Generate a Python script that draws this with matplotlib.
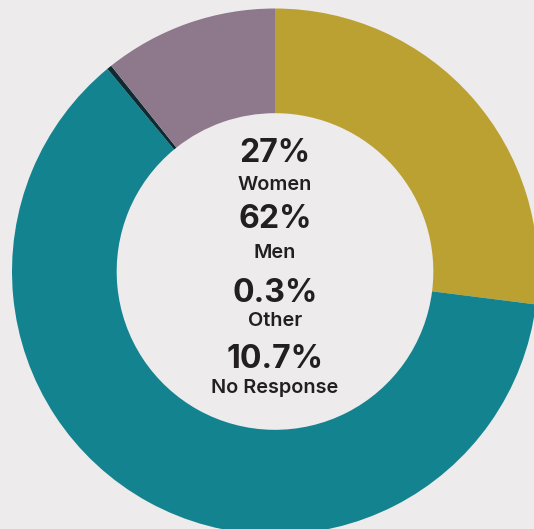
import matplotlib.pyplot as plt

categorias = ["Women", "Men", "Other", "No Response"]
valores = [27, 62, 0.3, 10.7]
etiquetas = ["27%", "62%", "0.3%", "10.7%"]
colores = ["#BBA132", "#13838F", "#0E2B33", "#8E788B"]

fondo = "#EDEBEC"
texto = "#231F20"

W, H = 534, 529
fig = plt.figure(figsize=(W / 100, H / 100), dpi=100, facecolor=fondo)
ax = fig.add_axes([0, 0, 1, 1])
ax.set_facecolor(fondo)

cx, cy, r = 275, H - 271.5, 263
ax.pie(valores, colors=colores, startangle=90, counterclock=False,
       center=(cx, cy), radius=r,
       wedgeprops=dict(width=r * 0.398, linewidth=0))

ax.set_xlim(0, W)
ax.set_ylim(0, H)
ax.set_aspect("equal")
ax.axis("off")

# textos del centro
ys_pct = [153, 220, 293, 359]
ys_cat = [185, 253, 321, 388]
for pct, cat, yp, yc in zip(etiquetas, categorias, ys_pct, ys_cat):
    ax.text(cx, H - yp, pct, ha="center", va="center", fontsize=23,
            fontweight="bold", color=texto, family="Inter")
    ax.text(cx, H - yc, cat, ha="center", va="center", fontsize=14.3,
            fontweight="semibold", color=texto, family="Inter")

fig.savefig("out.png", dpi=100, facecolor=fondo)
